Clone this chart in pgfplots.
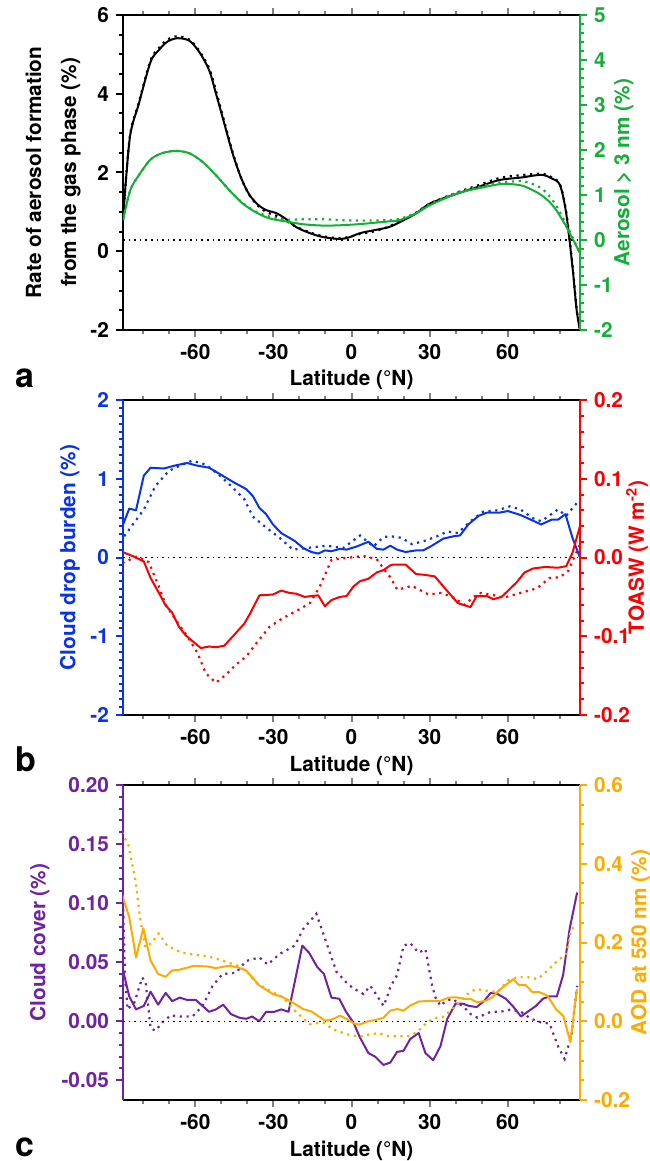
\documentclass[border=0pt]{standalone}
\usepackage{fontspec}
\setmainfont{TeX Gyre Heros}
\usepackage{pgfplots}
\pgfplotsset{compat=1.18}

\definecolor{cgreen}{RGB}{20,175,55}
\definecolor{cblue}{RGB}{10,50,230}
\definecolor{cred}{RGB}{250,0,0}
\definecolor{cpurple}{RGB}{110,35,160}
\definecolor{corange}{RGB}{255,170,0}

\newcommand{\lbl}{\fontsize{10.4}{17.5}\selectfont\bfseries}

\pgfplotsset{
  panel/.style={
    scale only axis, width=228.5pt, height=157.5pt,
    xmin=-87.8, xmax=87.8,
    tick align=outside,
    major tick length=3.5pt, minor tick length=2pt,
    tick style={line width=1pt},
    /pgf/number format/assume math mode=true,
    tick label style={font=\lbl},
  },
  leftax/.style={panel,
    separate axis lines,
    x axis line style={line width=1.3pt, black},
    xtick={-60,-30,0,30,60},
    minor xtick={-80,-70,-50,-40,-20,-10,10,20,40,50,70,80},
    xtick pos=both, xticklabel pos=lower,
    ytick pos=left,
    xlabel={Latitude (°N)},
    every axis x label/.style={at={(axis description cs:0.5,0)}, anchor=base, yshift=-28pt, font=\lbl},
  },
  rightax/.style={panel,
    axis x line=none, axis y line*=right,
    xtick=\empty,
    every axis y label/.style={at={(axis description cs:#1,0.5)}, rotate=90, anchor=center, font=\lbl},
  },
  ylab/.style={every axis y label/.style={at={(axis description cs:#1,0.5)}, rotate=90, anchor=center, align=center, font=\lbl}},
  lcol/.style={
    y axis line style={line width=1.3pt, #1},
    y tick style={#1}, yticklabel style={#1}, ylabel style={#1},
  },
  rcol/.style={
    y axis line style={-, line width=1.3pt, #1},
    y tick style={#1}, yticklabel style={#1}, ylabel style={#1},
  },
  fmt/.style={yticklabel style={/pgf/number format/fixed, /pgf/number format/fixed zerofill, /pgf/number format/precision=#1}},
  sol/.style={line width=1pt, line join=round},
  dot/.style={line width=1.1pt, dash pattern=on 1.1pt off 2.3pt},
  zero/.style={black, line width=0.7pt, dash pattern=on 0.8pt off 2pt},
}

\begin{document}
\begin{tikzpicture}

% ---------------- panel a ----------------
\begin{axis}[leftax, name=pa, at={(0,0)}, anchor=north west,
  ymin=-2, ymax=6, ytick={-2,0,2,4,6}, minor y tick num=3,
  ylabel={Rate of aerosol formation\\from the gas phase (\%)},
  ylab=-0.153, lcol=black,
]
\addplot[black, sol, smooth, tension=0.5] coordinates {
(-87.8,0.8) (-85.2,2.87) (-81.7,3.75) (-77.2,4.81) (-74,5.11) (-70.8,5.32) (-67,5.41)
(-62.4,5.35) (-58.6,5.07) (-54.7,4.6) (-52.1,4.01) (-48.9,3.25) (-45.7,2.49) (-42.4,1.86)
(-39.2,1.43) (-35.4,1.15) (-32.2,1.03) (-28.9,0.97) (-25,0.81) (-21.2,0.61) (-16,0.46)
(-10.9,0.36) (-4.4,0.31) (-0.6,0.36) (3.3,0.46) (8.4,0.53) (14.2,0.61) (18,0.72)
(24.8,0.96) (30.4,1.22) (40.9,1.47) (48.9,1.64) (56.9,1.81) (64.9,1.87) (72.9,1.94)
(76.9,1.85) (80.1,1.68) (82.5,0.96) (84.9,-0.39) (86.5,-1.49) (87.8,-2.0)
};
\addplot[black, dot, smooth, tension=0.5] coordinates {
(-87.8,0.8) (-85.2,2.9) (-81.7,3.78) (-77.2,4.85) (-74,5.16) (-70.8,5.37) (-67,5.46)
(-62.4,5.38) (-58.6,5.1) (-54.7,4.65) (-52.1,4.08) (-48.9,3.3) (-45.7,2.52) (-42.4,1.86)
(-39.2,1.42) (-35.4,1.12) (-32.2,0.98) (-28.9,0.9) (-25,0.77) (-21.2,0.62) (-16,0.48)
(-10.9,0.38) (-4.4,0.33) (-0.6,0.37) (3.3,0.44) (8.4,0.5) (14.2,0.62) (18,0.75)
(24.8,0.98) (30.4,1.22) (40.9,1.5) (48.9,1.68) (56.9,1.86) (64.9,1.93) (72.9,1.97)
(76.9,1.88) (80.1,1.7) (82.5,1.0) (84.9,-0.35) (86.5,-1.45) (87.8,-2.0)
};
\end{axis}
\begin{axis}[rightax=1.096, at={(0,0)}, anchor=north west,
  rcol=cgreen,
  ymin=-2, ymax=5, ytick={-2,-1,0,1,2,3,4,5}, minor y tick num=4,
  ylabel={Aerosol > 3 nm (\%)},
]
\addplot[zero] coordinates {(-87.8,0) (87.8,0)};
\addplot[cgreen, sol, smooth, tension=0.5] coordinates {
(-87.8,0.44) (-85,1.11) (-81.7,1.44) (-77.2,1.79) (-72.7,1.93) (-67.6,1.98) (-62.4,1.93)
(-57.3,1.74) (-52.1,1.44) (-47,1.11) (-41.8,0.81) (-36.6,0.61) (-31.5,0.48) (-25,0.41)
(-18.6,0.35) (-10.9,0.32) (-3.2,0.33) (4.6,0.36) (13.6,0.41) (18.4,0.44) (24.8,0.59)
(30.4,0.78) (40.9,1.04) (48.9,1.15) (56.9,1.24) (61.7,1.24) (66.5,1.19) (72.9,1.0)
(77.7,0.74) (82.5,0.3) (87.8,-0.3)
};
\addplot[cgreen, dot, smooth, tension=0.5] coordinates {
(-87.8,0.44) (-85,1.11) (-81.7,1.44) (-77.2,1.79) (-72.7,1.93) (-67.6,1.98) (-62.4,1.93)
(-57.3,1.74) (-52.1,1.44) (-47,1.11) (-41.8,0.82) (-36.6,0.63) (-31.5,0.52) (-25,0.45)
(-18.6,0.46) (-10.9,0.46) (-3.2,0.44) (4.6,0.43) (13.6,0.44) (18.4,0.47) (24.8,0.6)
(30.4,0.8) (40.9,1.06) (48.9,1.18) (56.9,1.28) (61.7,1.3) (66.5,1.3) (72.9,1.15)
(77.7,0.85) (82.5,0.35) (87.8,-0.3)
};
\end{axis}
\node[anchor=base west, font=\fontsize{17}{17}\selectfont\bfseries, xshift=-57.5pt, yshift=-29pt] at (pa.south west) {a};

% ---------------- panel b ----------------
\begin{axis}[leftax, name=pb, at={(0,-192.5pt)}, anchor=north west,
  ymin=-2, ymax=2, ytick={-2,-1,0,1,2}, minor y tick num=9,
  ylabel={Cloud drop burden (\%)},
  ylab=-0.116, lcol=cblue,
]
\addplot[cblue, sol] coordinates {
(-88,0.4) (-85.4,0.62) (-82.8,0.6) (-79.8,1.04) (-77.2,1.14) (-72.1,1.13) (-67.6,1.17)
(-63.1,1.2) (-59.8,1.17) (-54.7,1.14) (-49.6,1.04) (-45,0.95) (-40.5,0.87) (-37.9,0.78)
(-35.4,0.63) (-32.8,0.55) (-30.2,0.42) (-27,0.31) (-21.8,0.21) (-18.6,0.12) (-15.4,0.07)
(-12.8,0.05) (-10.2,0.09) (-7.7,0.08) (-4.4,0.11) (-1.9,0.1) (2,0.14) (6.5,0.2)
(9.7,0.11) (12.3,0.1) (14.9,0.15) (17.5,0.1) (20.8,0.07) (24.8,0.09) (27.5,0.09)
(30.4,0.14) (35.3,0.24) (39.3,0.27) (41.7,0.28) (44.9,0.42) (48.9,0.53) (52.1,0.57)
(56.9,0.57) (60.1,0.59) (64.9,0.54) (68.9,0.48) (72.9,0.42) (76.9,0.48) (79.3,0.48)
(82.2,0.55) (84.9,0.25) (87.8,0.0)
};
\addplot[cblue, dot] coordinates {
(-87.3,0.27) (-79.8,0.61) (-75.3,0.91) (-70.2,1.1) (-65,1.18) (-61.2,1.23) (-56,1.18)
(-50.9,1.05) (-46.3,0.91) (-41.2,0.74) (-37.9,0.52) (-32.8,0.38) (-27.6,0.25) (-22.5,0.1)
(-17.3,0.12) (-9.6,0.15) (-3.2,0.12) (3.3,0.28) (8.4,0.14) (12.3,0.26) (15.2,0.27)
(19.2,0.25) (23.2,0.17) (28,0.21) (32.9,0.27) (36.9,0.33) (40.9,0.31) (45.7,0.46)
(50.5,0.58) (56.1,0.6) (60.9,0.65) (64.9,0.61) (69.7,0.5) (72.9,0.46) (79.3,0.61)
(82.5,0.53) (87.8,0.74)
};
\end{axis}
\begin{axis}[rightax=1.125, at={(0,-192.5pt)}, anchor=north west,
  rcol=cred, fmt=1,
  ymin=-0.2, ymax=0.2, ytick={-0.2,-0.1,0,0.1,0.2}, minor y tick num=4,
  ylabel={TOASW (W m\textsuperscript{-2})},
]
\addplot[zero] coordinates {(-87.8,0) (87.8,0)};
\addplot[cred, sol] coordinates {
(-88,0.007) (-84.2,0.002) (-79.8,-0.005) (-77.2,-0.026) (-74,-0.045) (-71.4,-0.061)
(-68.9,-0.07) (-66.3,-0.088) (-63.7,-0.099) (-57.9,-0.115) (-54.7,-0.113) (-52.1,-0.114)
(-48.9,-0.112) (-45,-0.098) (-41.2,-0.084) (-38.6,-0.069) (-35.4,-0.048) (-30.2,-0.047)
(-27,-0.042) (-23.8,-0.045) (-21.2,-0.046) (-18,-0.05) (-12.8,-0.048) (-10.2,-0.062)
(-7.7,-0.054) (-4.4,-0.05) (-1.9,-0.049) (0.7,-0.037) (3.3,-0.03) (6.5,-0.027)
(9.7,-0.019) (12.3,-0.016) (14.9,-0.01) (16,-0.009) (20.8,-0.009) (24.8,-0.021)
(28,-0.022) (32,-0.024) (36.9,-0.043) (40.9,-0.058) (45.7,-0.063) (48.1,-0.049)
(52.1,-0.049) (54.5,-0.053) (57.7,-0.05) (63.3,-0.032) (66.5,-0.019) (69.7,-0.014)
(74.5,-0.012) (79.3,-0.013) (82.5,-0.011) (84.9,0.006) (87.8,0.04)
};
\addplot[cred, dot] coordinates {
(-88,-0.007) (-82.4,0.0015) (-77.9,-0.006) (-74,-0.037) (-71.4,-0.06) (-67.6,-0.079)
(-63.1,-0.1) (-59.2,-0.121) (-56,-0.147) (-52.1,-0.159) (-48.3,-0.149) (-44.4,-0.136)
(-40.5,-0.126) (-36.6,-0.109) (-31.5,-0.088) (-26.4,-0.077) (-21.2,-0.068) (-16,-0.058)
(-12.2,-0.037) (-7.7,-0.003) (-3.2,-0.001) (2,0.001) (4.6,0.002) (9.7,-0.002)
(12.5,-0.015) (14.9,-0.025) (17.6,-0.041) (23.2,-0.036) (29.6,-0.047) (34.5,-0.045)
(39.3,-0.051) (43.3,-0.06) (48.9,-0.045) (53.7,-0.047) (58.5,-0.051) (64.9,-0.045)
(71.3,-0.039) (76.1,-0.026) (80.1,-0.025) (83.3,-0.017) (87.8,0.017)
};
\end{axis}
\node[anchor=base west, font=\fontsize{17}{17}\selectfont\bfseries, xshift=-57.5pt, yshift=-28.5pt] at (pb.south west) {b};

% ---------------- panel c ----------------
\begin{axis}[leftax, name=pc, at={(0,-385pt)}, anchor=north west,
  ymin=-0.0667, ymax=0.2, ytick={-0.05,0,0.05,0.1,0.15,0.2}, minor y tick num=4,
  fmt=2,
  ylabel={Cloud cover (\%)},
  ylab=-0.182, lcol=cpurple,
]
\addplot[cpurple, sol] coordinates {
(-88.2,0.047) (-85.4,0.021) (-82.8,0.01) (-79.8,0.013) (-77.2,0.025) (-74.3,0.014)
(-71.4,0.024) (-68.9,0.017) (-66,0.02) (-63.1,0.018) (-59.8,0.018) (-54.7,0.008)
(-52.1,0.01) (-49.3,0.014) (-46.3,0.006) (-43.1,0.003) (-40.5,0.002) (-38.2,0.004)
(-35.4,0.0) (-32.8,0.008) (-29.6,0.008) (-27,0.01) (-24.2,0.008) (-18.9,0.064)
(-16.3,0.058) (-13.2,0.046) (-10.6,0.04) (-7.7,0.02) (-4.7,0.019) (-2.1,0.008)
(0.7,-0.001) (3.3,-0.014) (6.5,-0.027) (9.1,-0.03) (12.3,-0.037) (14.9,-0.035)
(17.5,-0.026) (20,-0.025) (22.6,-0.015) (25.8,-0.01) (28.4,-0.027) (31.4,-0.033)
(34.2,-0.021) (36.8,0.002) (40,0.015) (42.6,0.015) (45.1,0.013) (48.1,0.012)
(50.9,0.017) (53.5,0.024) (56.1,0.023) (59.3,0.019) (62.3,0.012) (65.1,0.004)
(67.7,0.008) (70.9,0.013) (73.5,0.019) (76.1,0.021) (78.9,0.021) (81.3,0.039)
(83.8,0.078) (86.7,0.109)
};
\addplot[cpurple, dot] coordinates {
(-88.2,0.135) (-87,0.036) (-86,0.01) (-83.4,0.016) (-80.4,0.037) (-79.1,0.033)
(-77.2,-0.006) (-75.3,-0.008) (-72.7,-0.001) (-69.5,0.005) (-65.6,0.004) (-61.1,0.004)
(-57.2,0.013) (-53.4,0.03) (-49.5,0.04) (-44.4,0.041) (-40.5,0.051) (-35.4,0.054)
(-32.2,0.048) (-27.6,0.057) (-21.8,0.064) (-18.6,0.078) (-13.5,0.091) (-10.2,0.07)
(-5.8,0.042) (-1.2,0.031) (1.4,0.027) (4.6,0.023) (7.2,0.03) (9.7,0.022) (12.3,0.013)
(13.6,0.02) (14.9,0.029) (17.5,0.039) (20,0.064) (22.6,0.066) (25.8,0.058) (28.4,0.061)
(31,0.03) (32.3,0.02) (34.2,0.013) (36.1,0.017) (38.7,0.019) (43.2,0.012) (45.8,0.006)
(48.4,0.003) (53.5,0.008) (57.3,0.008) (61.2,0.01) (65.1,0.008) (69,0.002) (72.8,-0.001)
(76.1,-0.002) (79.3,-0.021) (81.9,-0.032) (84.5,-0.012) (86.7,0.03)
};
\end{axis}
\begin{axis}[rightax=1.133, at={(0,-385pt)}, anchor=north west,
  rcol=corange, fmt=1,
  ymin=-0.2, ymax=0.6, ytick={-0.2,0,0.2,0.4,0.6}, minor y tick num=3,
  ylabel={AOD at 550 nm (\%)},
]
\addplot[zero] coordinates {(-87.8,0) (87.8,0)};
\addplot[corange, sol] coordinates {
(-88.2,0.323) (-85.4,0.264) (-82.8,0.162) (-80,0.236) (-77.2,0.154) (-74.3,0.12)
(-71.4,0.113) (-68.9,0.129) (-66,0.131) (-60.5,0.141) (-55.3,0.139) (-52.1,0.135)
(-47,0.141) (-43.8,0.137) (-40.5,0.129) (-35.4,0.091) (-30.2,0.069) (-27,0.063)
(-23.2,0.05) (-18.6,0.031) (-15.4,0.025) (-10.2,0.002) (-7.7,0.004) (-4.4,0.014)
(-1.9,0.006) (1.4,-0.007) (3.3,-0.008) (6.5,0.0) (9.7,0.004) (12.3,0.009) (14.9,0.027)
(17.5,0.031) (20,0.027) (22.6,0.04) (25.8,0.05) (30.3,0.052) (34.2,0.052) (37.4,0.06)
(40,0.061) (43.2,0.057) (45.7,0.057) (48.3,0.048) (51.5,0.052) (54.1,0.061) (56.6,0.078)
(59.2,0.092) (62.2,0.107) (64.3,0.092) (66.9,0.092) (69.5,0.074) (72.1,0.074)
(75.3,0.065) (78.5,0.031) (81.4,0.013) (84.1,-0.053) (86.6,0.082)
};
\addplot[corange, dot] coordinates {
(-88.2,0.48) (-85.7,0.446) (-83.1,0.361) (-81.2,0.26) (-79.2,0.188) (-76.6,0.2)
(-74.1,0.223) (-70.8,0.192) (-65.6,0.175) (-60.5,0.169) (-54.7,0.164) (-49.5,0.154)
(-43.8,0.141) (-40.5,0.129) (-36.6,0.097) (-31.5,0.078) (-26.4,0.061) (-21.2,0.023)
(-16.1,-0.007) (-10.9,-0.003) (-8.3,-0.015) (-5.8,-0.024) (-1.2,-0.034) (3.3,-0.039)
(6.5,-0.034) (10.4,-0.03) (14.2,-0.038) (18.7,-0.038) (22.6,-0.037) (25.8,-0.024)
(28.4,-0.007) (31.6,0.008) (34.9,0.01) (38.1,0.027) (41.3,0.048) (44.5,0.069)
(47.7,0.082) (51.5,0.078) (56.1,0.074) (60,0.103) (63.8,0.112) (67.7,0.112)
(71.5,0.107) (75.3,0.129) (79.2,0.154) (82.5,0.171) (84.4,0.234) (86.6,0.243)
};
\end{axis}
\node[anchor=base west, font=\fontsize{17}{17}\selectfont\bfseries, xshift=-57.5pt, yshift=-28pt] at (pc.south west) {c};

\pgfresetboundingbox
\useasboundingbox (-61.5pt,7.5pt) rectangle (263pt,-573pt);
\end{tikzpicture}
\end{document}
